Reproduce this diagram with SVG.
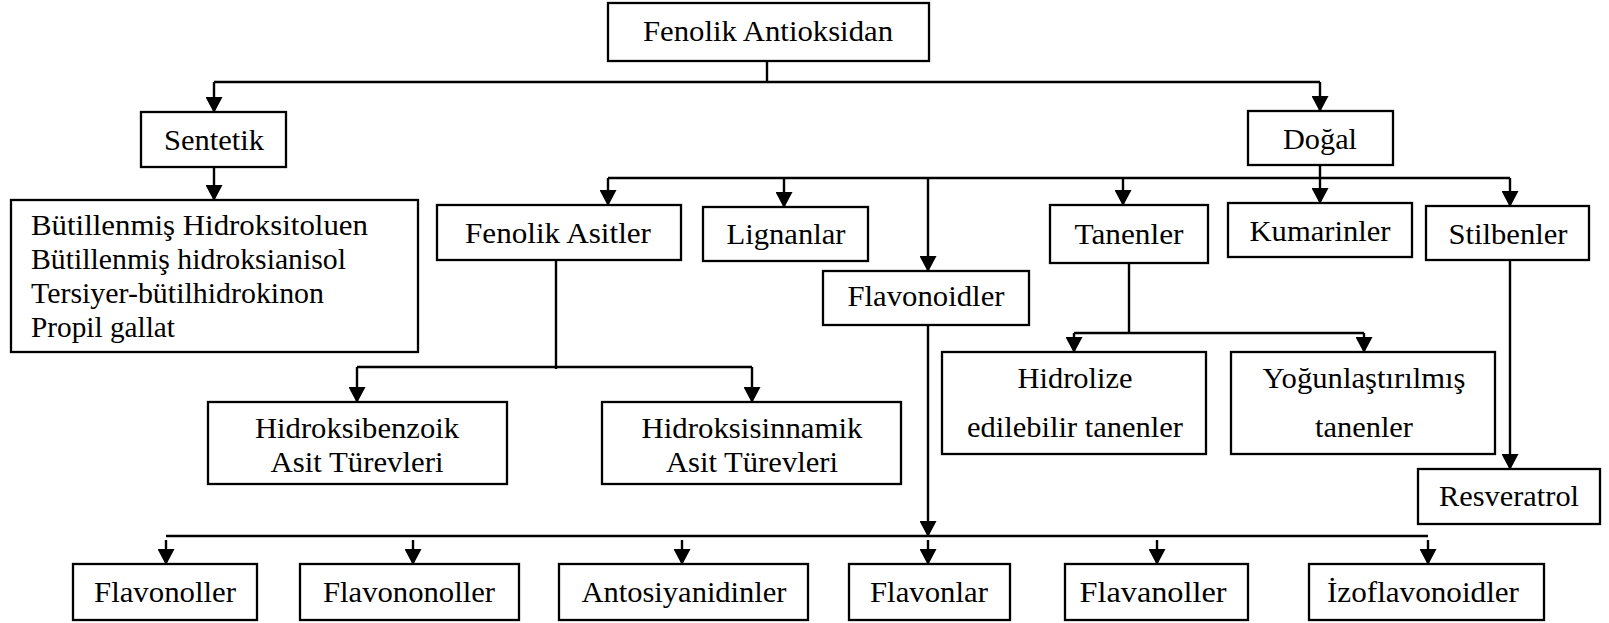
<svg xmlns="http://www.w3.org/2000/svg" width="1609" height="623" viewBox="0 0 1609 623">
<style>
.b{fill:#fff;stroke:#000;stroke-width:2.3}
.t{font-family:"Liberation Serif","Times New Roman",serif;font-size:29px;fill:#000;text-anchor:middle}
.l{font-family:"Liberation Serif","Times New Roman",serif;font-size:29px;fill:#000}
.c{fill:none;stroke:#000;stroke-width:2.4}
.a{fill:none;stroke:#000;stroke-width:2.4;marker-end:url(#ah)}
</style>
<defs>
<marker id="ah" markerUnits="userSpaceOnUse" markerWidth="16" markerHeight="17" viewBox="0 0 16 17" refX="15" refY="8.5" orient="auto">
<path d="M0,0 L16,8.5 L0,17 z" fill="#000"/>
</marker>
</defs>
<rect width="1609" height="623" fill="#fff"/>
<g id="connectors">
<path class="c" d="M767,61 V82 M214,82 H1320 M608,178 H1510 M556,260 V369 M357,367 H752 M1129,263 V333 M1074,333 H1364 M166,536 H1428"/>
<path class="a" d="M214,82 V112"/>
<path class="a" d="M1320,82 V111"/>
<path class="a" d="M214,167 V200"/>
<path class="a" d="M1320,165 V203"/>
<path class="a" d="M608,178 V205"/>
<path class="a" d="M784,178 V207"/>
<path class="a" d="M928,178 V271"/>
<path class="a" d="M1123,178 V205"/>
<path class="a" d="M1510,178 V206"/>
<path class="a" d="M357,367 V402"/>
<path class="a" d="M752,367 V402"/>
<path class="a" d="M1074,333 V352"/>
<path class="a" d="M1364,333 V352"/>
<path class="a" d="M1510,260 V469"/>
<path class="a" d="M928,325 V536"/>
<path class="a" d="M166,540 V564"/>
<path class="a" d="M413,540 V564"/>
<path class="a" d="M682,540 V564"/>
<path class="a" d="M928,540 V564"/>
<path class="a" d="M1157,540 V564"/>
<path class="a" d="M1428,540 V564"/>
</g>
<g id="n-fenolik-antioksidan"><rect class="b" x="608" y="3" width="321" height="58"/><text class="t" x="768" y="41" textLength="250" lengthAdjust="spacingAndGlyphs">Fenolik Antioksidan</text></g>
<g id="n-sentetik"><rect class="b" x="141" y="112" width="145" height="55"/><text class="t" x="214" y="150" textLength="100" lengthAdjust="spacingAndGlyphs">Sentetik</text></g>
<g id="n-dogal"><rect class="b" x="1248" y="111" width="145" height="54"/><text class="t" x="1320" y="149" textLength="74" lengthAdjust="spacingAndGlyphs">Doğal</text></g>
<g id="n-sentetik-list"><rect class="b" x="11" y="200" width="407" height="152"/>
<text class="l" x="31" y="235" textLength="337" lengthAdjust="spacingAndGlyphs">Bütillenmiş Hidroksitoluen</text>
<text class="l" x="31" y="269" textLength="315" lengthAdjust="spacingAndGlyphs">Bütillenmiş hidroksianisol</text>
<text class="l" x="31" y="303" textLength="293" lengthAdjust="spacingAndGlyphs">Tersiyer-bütilhidrokinon</text>
<text class="l" x="31" y="337" textLength="144" lengthAdjust="spacingAndGlyphs">Propil gallat</text></g>
<g id="n-fenolik-asitler"><rect class="b" x="437" y="205" width="244" height="55"/><text class="t" x="558" y="243" textLength="186" lengthAdjust="spacingAndGlyphs">Fenolik Asitler</text></g>
<g id="n-lignanlar"><rect class="b" x="703" y="207" width="165" height="54"/><text class="t" x="786" y="244" textLength="119" lengthAdjust="spacingAndGlyphs">Lignanlar</text></g>
<g id="n-flavonoidler"><rect class="b" x="823" y="271" width="206" height="54"/><text class="t" x="926" y="306" textLength="157" lengthAdjust="spacingAndGlyphs">Flavonoidler</text></g>
<g id="n-tanenler"><rect class="b" x="1050" y="205" width="158" height="58"/><text class="t" x="1129" y="244" textLength="109" lengthAdjust="spacingAndGlyphs">Tanenler</text></g>
<g id="n-kumarinler"><rect class="b" x="1228" y="203" width="184" height="54"/><text class="t" x="1320" y="241" textLength="141" lengthAdjust="spacingAndGlyphs">Kumarinler</text></g>
<g id="n-stilbenler"><rect class="b" x="1426" y="206" width="163" height="54"/><text class="t" x="1508" y="244" textLength="119" lengthAdjust="spacingAndGlyphs">Stilbenler</text></g>
<g id="n-hidroksibenzoik"><rect class="b" x="208" y="402" width="299" height="82"/><text class="t" x="357" y="438" textLength="204" lengthAdjust="spacingAndGlyphs">Hidroksibenzoik</text><text class="t" x="357" y="472" textLength="173" lengthAdjust="spacingAndGlyphs">Asit Türevleri</text></g>
<g id="n-hidroksisinnamik"><rect class="b" x="602" y="402" width="299" height="82"/><text class="t" x="752" y="438" textLength="221" lengthAdjust="spacingAndGlyphs">Hidroksisinnamik</text><text class="t" x="752" y="472" textLength="172" lengthAdjust="spacingAndGlyphs">Asit Türevleri</text></g>
<g id="n-hidrolize"><rect class="b" x="942" y="352" width="264" height="102"/><text class="t" x="1075" y="388" textLength="115" lengthAdjust="spacingAndGlyphs">Hidrolize</text><text class="t" x="1075" y="437" textLength="216" lengthAdjust="spacingAndGlyphs">edilebilir tanenler</text></g>
<g id="n-yogunlastirilmis"><rect class="b" x="1231" y="352" width="264" height="102"/><text class="t" x="1364" y="388" textLength="203" lengthAdjust="spacingAndGlyphs">Yoğunlaştırılmış</text><text class="t" x="1364" y="437" textLength="98" lengthAdjust="spacingAndGlyphs">tanenler</text></g>
<g id="n-resveratrol"><rect class="b" x="1418" y="469" width="182" height="55"/><text class="t" x="1509" y="506" textLength="140" lengthAdjust="spacingAndGlyphs">Resveratrol</text></g>
<g id="n-flavonoller"><rect class="b" x="73" y="564" width="184" height="56"/><text class="t" x="165" y="602" textLength="142" lengthAdjust="spacingAndGlyphs">Flavonoller</text></g>
<g id="n-flavononoller"><rect class="b" x="300" y="564" width="219" height="56"/><text class="t" x="409" y="602" textLength="172" lengthAdjust="spacingAndGlyphs">Flavononoller</text></g>
<g id="n-antosiyanidinler"><rect class="b" x="559" y="564" width="249" height="56"/><text class="t" x="684" y="602" textLength="205" lengthAdjust="spacingAndGlyphs">Antosiyanidinler</text></g>
<g id="n-flavonlar"><rect class="b" x="849" y="564" width="161" height="56"/><text class="t" x="929" y="602" textLength="118" lengthAdjust="spacingAndGlyphs">Flavonlar</text></g>
<g id="n-flavanoller"><rect class="b" x="1065" y="564" width="183" height="56"/><text class="t" x="1153" y="602" textLength="147" lengthAdjust="spacingAndGlyphs">Flavanoller</text></g>
<g id="n-izoflavonoidler"><rect class="b" x="1309" y="564" width="235" height="56"/><text class="t" x="1423" y="602" textLength="192" lengthAdjust="spacingAndGlyphs">İzoflavonoidler</text></g>
</svg>
